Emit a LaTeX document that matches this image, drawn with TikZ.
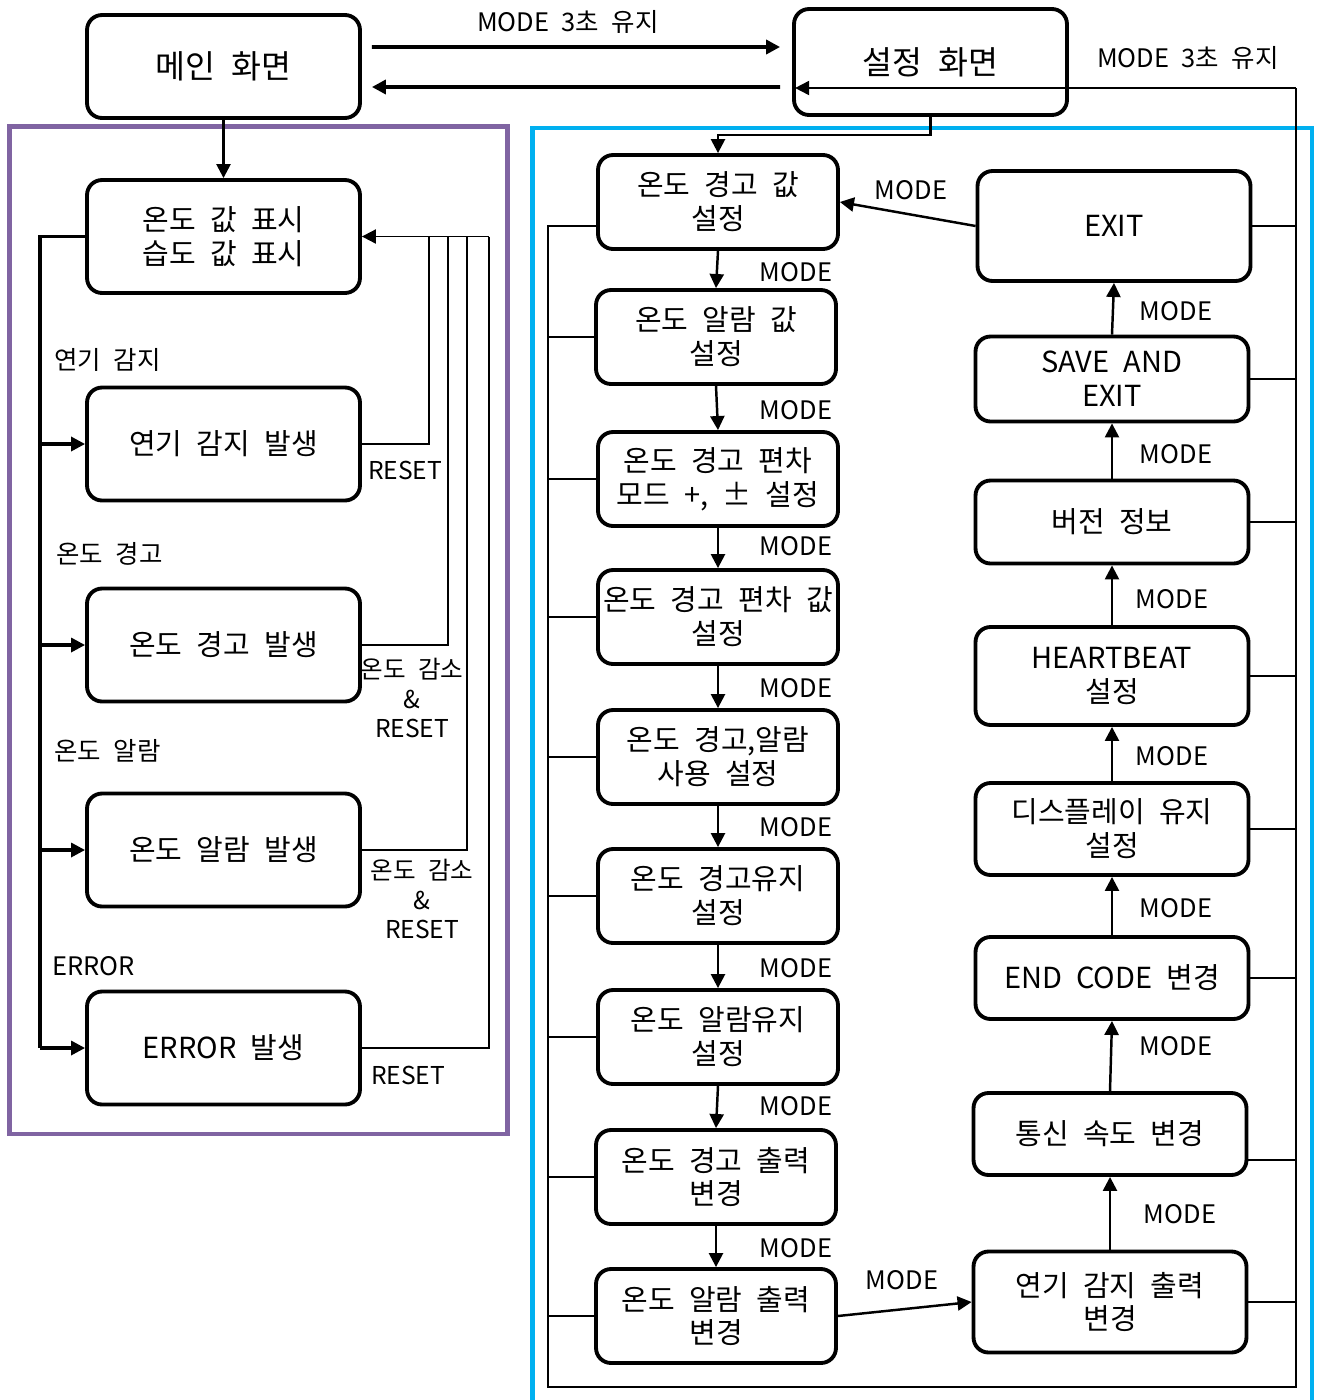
\documentclass[tikz,border=0pt]{standalone}
\usepackage{fontspec}
\setmainfont{Noto Sans CJK KR}[WordSpace=2.2]
\usetikzlibrary{arrows.meta}

\definecolor{framepurple}{HTML}{8064A2}
\definecolor{framecyan}{HTML}{00B0F0}

\begin{document}
\begin{tikzpicture}[x=0.02cm, y=-0.02cm,
    every node/.style={font=\fontsize{14.5}{17}\selectfont},
    state/.style={draw, rounded corners=0.3cm, line width=2.2pt, align=center,
        inner sep=0pt, font=\fontsize{16.5}{19.3}\selectfont},
    wide/.style={state, minimum width=5.46cm},
    narrow/.style={state, minimum width=4.8cm, minimum height=1.88cm},
    tip/.style={-{Triangle[length=8pt, width=8pt]}},
    modearrow/.style={tip, line width=1.4pt},
    bigarrow/.style={tip, line width=2.2pt},
    feed/.style={line width=1.1pt},
    tag/.style={align=center, inner sep=0pt, font=\fontsize{14}{17}\selectfont}]

\useasboundingbox (0,0) rectangle (1320,1400);

    % frames
    \draw[framepurple, line width=2.8pt] (9.5,126.5) rectangle (507.5,1134);
    \draw[framecyan, line width=2.8pt] (532.5,128) rectangle (1312,1404);

    % main screen and setup screen
    \node[wide, minimum height=2.06cm, font=\fontsize{18.5}{21}\selectfont] (main) at (223.5,66.5) {메인 화면};
    \node[wide, minimum height=2.12cm, font=\fontsize{18.5}{21}\selectfont] (setup) at (930.5,62) {설정 화면};

    \draw[bigarrow, shorten <=0.2cm, shorten >=0.24cm] ([yshift=0.39cm]main.east) -- ([yshift=0.3cm]setup.west);
    \node (hold1) at (568,22) {MODE 3초 유지};
    \draw[bigarrow, shorten <=0.24cm, shorten >=0.2cm] ([yshift=-0.5cm]setup.west) -- ([yshift=-0.41cm]main.east);

    % left panel
    \node[wide, minimum height=2.26cm] (disp) at (223.5,236.5) {온도 값 표시\\습도 값 표시};
    \node[wide, minimum height=2.26cm] (smoke) at (223.5,444) {연기 감지 발생};
    \node[wide, minimum height=2.26cm] (warn) at (223.5,645) {온도 경고 발생};
    \node[wide, minimum height=2.26cm] (alarm) at (223.5,850) {온도 알람 발생};
    \node[wide, minimum height=2.26cm] (err) at (223.5,1048) {ERROR 발생};

    \draw[modearrow] (main) -- (disp);

    % events
    \coordinate (lbus) at (40,1048);
    \draw[line width=1.8pt] (disp.west) -| (lbus);
    \draw[modearrow, line width=1.8pt] (lbus) -- (err.west);
    \foreach \n in {smoke,warn,alarm}
        \draw[modearrow, line width=1.8pt] (\n.west -| lbus) -- (\n.west);
    \node[anchor=west] (evsmoke) at (48,360) {연기 감지};
    \node[anchor=west] (evwarn) at (50,554) {온도 경고};
    \node[anchor=west] (evalarm) at (48,751) {온도 알람};
    \node[anchor=west] (everr) at (46,966) {ERROR};

    % reset back to display
    \coordinate (back1) at (429,236.5);
    \coordinate (back2) at (448,236.5);
    \coordinate (back3) at (467,236.5);
    \coordinate (back4) at (489,236.5);
    \draw[feed] (smoke.east) -| (back1);
    \draw[feed] (warn.east) -| (back2);
    \draw[feed] (alarm.east) -| (back3);
    \draw[feed] (err.east) -| (back4);
    \draw[feed, tip] (back4) -- (disp.east);
    \node[tag] (rs1) at (405,470) {RESET};
    \node[tag] (rs2) at (412,698) {온도 감소\\\&\\RESET};
    \node[tag] (rs3) at (422,899) {온도 감소\\\&\\RESET};
    \node[tag] (rs4) at (408,1075) {RESET};

    % setup menu, left column
    \node[narrow] (s1) at (718,202) {온도 경고 값\\설정};
    \node[narrow] (s2) at (716,337) {온도 알람 값\\설정};
    \node[narrow] (s3) at (718,479) {온도 경고 편차\\모드 +, ± 설정};
    \node[narrow] (s4) at (718,617) {온도 경고 편차 값\\설정};
    \node[narrow] (s5) at (718,757) {온도 경고,알람\\사용 설정};
    \node[narrow] (s6) at (718,896) {온도 경고유지\\설정};
    \node[narrow] (s7) at (718,1037) {온도 알람유지\\설정};
    \node[narrow] (s8) at (716,1177) {온도 경고 출력\\변경};
    \node[narrow] (s9) at (716,1316) {온도 알람 출력\\변경};

    \draw[modearrow] (setup.south) -- ++(0,18) -| (s1.north);
    \foreach \a/\b/\y in {s1/s2/272, s2/s3/410, s3/s4/546, s4/s5/688, s5/s6/827, s6/s7/968, s7/s8/1106, s8/s9/1248} {
        \draw[modearrow] (\a.south) -- (\b.north);
        \node at (796,\y) {MODE};
    }

    % setup menu, right column
    \node[wide, minimum height=2.2cm] (e1) at (1114,226) {EXIT};
    \node[wide, minimum height=1.7cm] (e2) at (1112,379) {SAVE AND\\EXIT};
    \node[wide, minimum height=1.66cm] (e3) at (1112,522) {버전 정보};
    \node[wide, minimum height=1.96cm] (e4) at (1112,676) {HEARTBEAT\\설정};
    \node[wide, minimum height=1.84cm] (e5) at (1112,829) {디스플레이 유지\\설정};
    \node[wide, minimum height=1.64cm] (e6) at (1112,978) {END CODE 변경};
    \node[wide, minimum height=1.64cm] (e7) at (1110,1134) {통신 속도 변경};
    \node[wide, minimum height=2.02cm] (e8) at (1110,1302) {연기 감지 출력\\변경};

    \foreach \a/\b/\x/\y in {e8/e7/1180/1214, e7/e6/1176/1046, e6/e5/1176/908, e5/e4/1172/756, e4/e3/1172/599, e3/e2/1176/454, e2/e1/1176/311} {
        \draw[modearrow] (\a.north) -- (\b.south);
        \node at (\x,\y) {MODE};
    }

    \draw[modearrow] (s9.east) -- (e8.west);
    \node (mlow) at (902,1280) {MODE};
    \draw[modearrow] (e1.west) -- (s1.east);
    \node (mtop) at (911,190) {MODE};

    % return to main screen
    \coordinate (rtop) at (1296,88);
    \coordinate (rbot) at (1296,1387);
    \coordinate (cbot) at (548,1387);
    \coordinate (ctop) at (548,226);
    \draw[feed] (ctop -| s1.west) -- (ctop) -- (cbot) -- (rbot) -- (rtop);
    \draw[modearrow, line width=1.1pt, shorten >=0.06cm] (rtop) -- (setup.west |- rtop);
    \node (hold2) at (1188,58) {MODE 3초 유지};
    \foreach \n in {s2,s3,s4,s5,s6,s7,s8,s9}
        \draw[feed] (\n.west) -- (\n.west -| cbot);
    \foreach \n in {e1,e2,e3,e4,e5,e6,e8}
        \draw[feed] (\n.east) -- (\n.east -| rtop);
    \draw[feed] ([yshift=-0.52cm]e7.east) -- ([yshift=-0.52cm]e7.east -| rtop);

\end{tikzpicture}
\end{document}
